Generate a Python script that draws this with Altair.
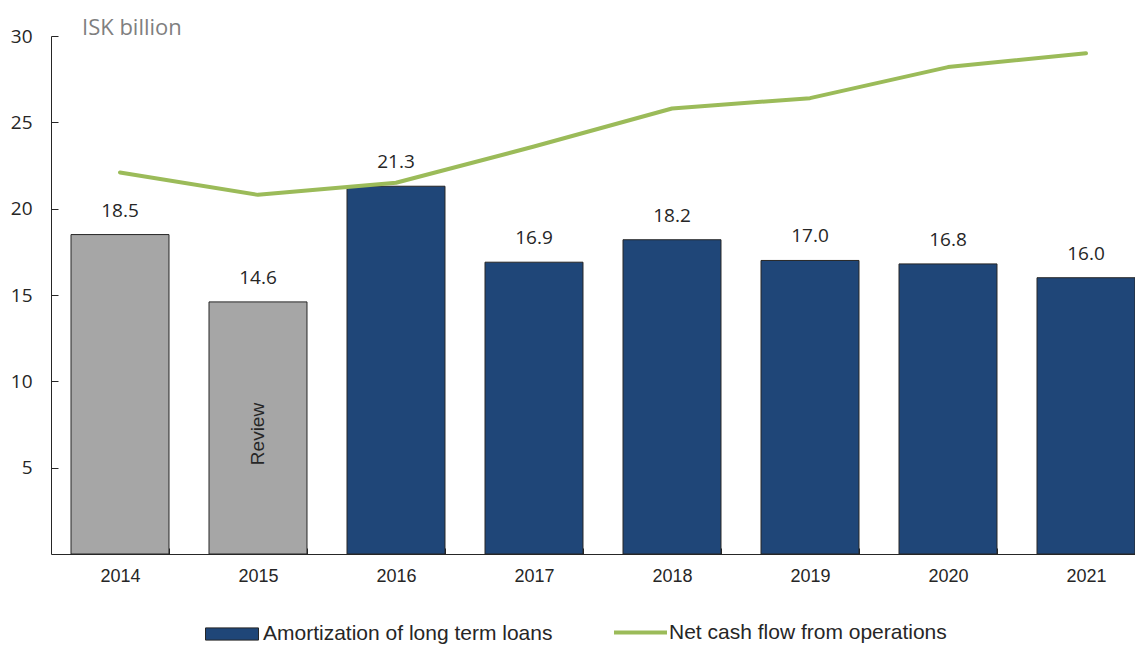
import altair as alt
import pandas as pd

years = ["2014", "2015", "2016", "2017", "2018", "2019", "2020", "2021"]
amortization = [18.5, 14.6, 21.3, 16.9, 18.2, 17.0, 16.8, 16.0]
bar_group = ["Reviewed", "Reviewed"] + ["Amortization of long term loans"] * 6
net_cash_flow = [22.1, 20.8, 21.5, 23.6, 25.8, 26.4, 28.2, 29.0]
line_series = ["Net cash flow from operations"] * 8
y_ticks = [5, 10, 15, 20, 25, 30]
review_year = ["2015"]
review_text = ["Review"]
unit_text = ["ISK billion"]

df = pd.DataFrame({"year": years, "amort": amortization, "group": bar_group,
                   "net": net_cash_flow, "series": line_series})
review_df = pd.DataFrame({"year": review_year, "label": review_text})
unit_df = pd.DataFrame({"t": unit_text})

BLUE = "#1F4678"
GRAY = "#A6A6A6"
GREEN = "#9BBB59"
DARK = "#262626"

xscale = alt.Scale(domain=years, range=[0, 1104], paddingInner=0.29, paddingOuter=0.145)
xaxis = alt.Axis(title=None, labelAngle=0, labelFont="Liberation Sans", labelFontSize=18,
                 labelColor=DARK, domainColor=DARK, tickColor=DARK, tickBand="extent",
                 tickSize={"expr": "-6"}, labelPadding=19)
X = alt.X("year:N", sort=years, scale=xscale, axis=xaxis)

yscale = alt.Scale(domain=[0, 30], nice=False)
yaxis = alt.Axis(title=None, values=y_ticks, grid=False, labelFont="Open Sans", labelFontSize=19,
                 labelColor=DARK, domainColor=DARK, tickColor=DARK,
                 tickSize={"expr": "-7"}, labelPadding=26)

bars = alt.Chart(df).mark_bar(stroke=DARK, strokeWidth=1).encode(
    x=X,
    y=alt.Y("amort:Q", scale=yscale, axis=yaxis),
    fill=alt.Fill("group:N",
                  scale=alt.Scale(domain=["Amortization of long term loans", "Reviewed"], range=[BLUE, GRAY]),
                  legend=alt.Legend(values=["Amortization of long term loans"], orient="none",
                                    legendX=154, legendY=571, title=None,
                                    symbolType="M-1,-0.23H1V0.23H-1Z", symbolSize=2809,
                                    symbolStrokeColor=DARK, symbolStrokeWidth=1,
                                    labelFont="Liberation Sans", labelFontSize=21, labelLimit=0,
                                    labelColor=DARK, labelOffset=4, padding=0)),
)

labels = alt.Chart(df).mark_text(dy=-24, baseline="middle", font="Open Sans", fontSize=19,
                                 color=DARK).encode(
    x=X,
    y=alt.Y("amort:Q", scale=yscale),
    text=alt.Text("amort:Q", format=".1f"),
)

line = alt.Chart(df).mark_line(strokeWidth=4, strokeCap="round", strokeJoin="round").encode(
    x=X,
    y=alt.Y("net:Q", scale=yscale),
    stroke=alt.Stroke("series:N",
                      scale=alt.Scale(domain=["Net cash flow from operations"], range=[GREEN]),
                      legend=alt.Legend(orient="none", legendX=561, legendY=568, title=None,
                                        symbolType="stroke", symbolSize=2809, symbolStrokeWidth=4,
                                        labelFont="Liberation Sans", labelFontSize=21, labelLimit=0,
                                        labelColor=DARK, labelOffset=0, padding=0)),
)

review = alt.Chart(review_df).mark_text(angle=270, font="Liberation Sans", fontSize=19,
                                        color=DARK, baseline="middle", align="center").encode(
    x=X,
    y=alt.value(398),
    text="label:N",
)

unit = alt.Chart(unit_df).mark_text(align="left", baseline="alphabetic", font="Open Sans",
                                    fontSize=22, color="#7F7F7F").encode(
    x=alt.value(31),
    y=alt.value(-1),
    text="t:N",
)

chart = alt.layer(bars, labels, line, review, unit).properties(
    width=1084, height=518,
    autosize=alt.AutoSizeParams(type="none"),
    padding={"left": 43, "top": 28, "right": 0, "bottom": 90},
).resolve_scale(fill="independent", stroke="independent").configure_view(stroke=None)

chart.save("out.html", embed_options={"renderer": "svg", "actions": False})
